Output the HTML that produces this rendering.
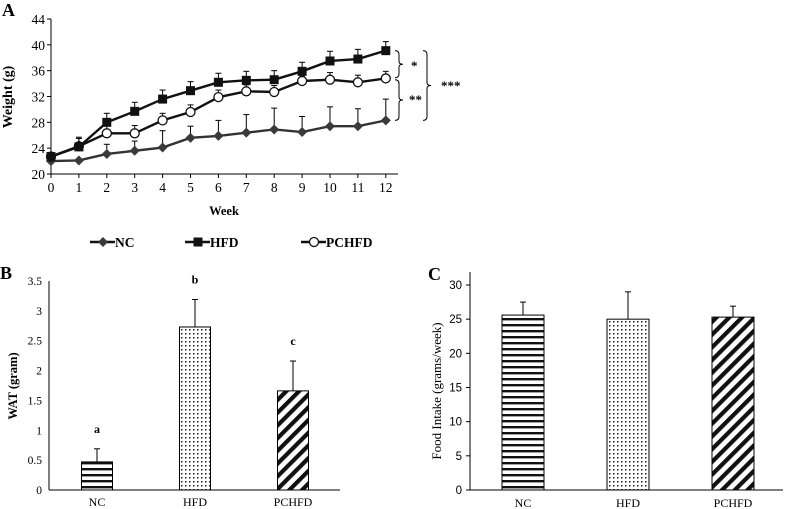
<!DOCTYPE html>
<html><head><meta charset="utf-8"><style>
html,body{margin:0;padding:0;background:#fff;}
svg{display:block;font-family:"Liberation Serif",serif;}
</style></head><body>
<svg width="787" height="509" viewBox="0 0 787 509" xmlns="http://www.w3.org/2000/svg">
<defs>
<pattern id="pH" width="8" height="6" patternUnits="userSpaceOnUse"><rect width="8" height="6" fill="#fff"/><rect y="0" width="8" height="2.4" fill="#111"/></pattern>
<pattern id="pD" width="4" height="4" patternUnits="userSpaceOnUse"><rect width="4" height="4" fill="#fff"/><rect x="1" y="1" width="1.5" height="1.5" fill="#222"/></pattern>
<pattern id="pS" width="9" height="9" patternUnits="userSpaceOnUse" patternTransform="rotate(45)"><rect width="9" height="9" fill="#fff"/><rect width="4.2" height="9" fill="#111"/></pattern>
</defs>
<g id="gA"></g>
<g id="gB"></g>
<g id="gC"></g>
</svg>
<script>
const weeks=[0,1,2,3,4,5,6,7,8,9,10,11,12];
const yTicksA=[20,24,28,32,36,40,44];
const ncVals=[22,22.1,23.1,23.6,24.1,25.6,25.9,26.4,26.9,26.5,27.4,27.4,28.3];
const ncErr=[0,0,1.5,1.5,2.6,1.8,2.4,2.8,3.3,2.4,3,2.7,3.3];
const hfdVals=[22.7,24.2,28,29.7,31.6,32.9,34.2,34.5,34.6,35.9,37.5,37.8,39.1];
const hfdErr=[0.3,1.5,1.4,1.4,1.4,1.4,1.4,1.4,1.4,1.4,1.5,1.5,1.4];
const pcVals=[22.7,24.3,26.3,26.3,28.3,29.6,31.9,32.8,32.7,34.4,34.6,34.2,34.8];
const pcErr=[0.4,1.2,1.2,1.2,1.1,1.1,1.1,1,1,0.8,1.1,1.1,1.1];
const groups=["NC","HFD","PCHFD"];
const watVals=[0.47,2.73,1.66];
const watErr=[0.22,0.46,0.5];
const watLetters=["a","b","c"];
const yTicksB=["0","0.5","1","1.5","2","2.5","3","3.5"];
const foodVals=[25.6,25,25.3];
const foodErr=[1.9,4,1.6];
const yTicksC=[0,5,10,15,20,25,30];
const NS="http://www.w3.org/2000/svg";
function mk(p,t,a,txt){const e=document.createElementNS(NS,t);for(const k in a)e.setAttribute(k,a[k]);if(txt!==undefined)e.textContent=txt;p.appendChild(e);return e;}

// Chart A
const gA=document.getElementById('gA');
const xA=w=>51+w*27.9, yA=v=>174-(v-20)*(155/24);
let t=mk(gA,'text',{x:2,y:16,'font-size':18,'font-weight':'bold'},'A');

let l=mk(gA,'line',{x1:51,y1:19,x2:51,y2:174,stroke:'#000','stroke-width':1});

l=mk(gA,'line',{x1:51,y1:174,x2:398,y2:174,stroke:'#000','stroke-width':1});

yTicksA.forEach(v=>{mk(gA,'line',{x1:47,y1:yA(v),x2:51,y2:yA(v),stroke:'#000'});
 t=mk(gA,'text',{x:45,y:yA(v)+5,'text-anchor':'end','font-size':13.5},v);
 });
weeks.forEach(w=>{mk(gA,'line',{x1:xA(w),y1:174,x2:xA(w),y2:178,stroke:'#000'});
 t=mk(gA,'text',{x:xA(w),y:192,'text-anchor':'middle','font-size':13.5},w);
 });
t=mk(gA,'text',{x:224,y:215,'text-anchor':'middle','font-size':12.5,'font-weight':'bold'},'Week');

t=mk(gA,'text',{x:0,y:0,'text-anchor':'middle','font-size':14,'font-weight':'bold',transform:'translate(12,97) rotate(-90)'},'Weight (g)');

function series(vals,errs,name,marker){
 const g=mk(gA,'g',{});
 
 vals.forEach((v,i)=>{const x=xA(weeks[i]);mk(g,'line',{x1:x,y1:yA(v),x2:x,y2:yA(v+errs[i]),stroke:'#000','stroke-width':1});
  mk(g,'line',{x1:x-3,y1:yA(v+errs[i]),x2:x+3,y2:yA(v+errs[i]),stroke:'#000','stroke-width':1});});
 mk(g,'polyline',{points:vals.map((v,i)=>xA(weeks[i])+','+yA(v)).join(' '),fill:'none',stroke:marker==='d'?'#333':'#111','stroke-width':2.4});
 vals.forEach((v,i)=>{const x=xA(weeks[i]),y=yA(v);let m;
  if(marker==='d')m=mk(g,'polygon',{points:`${x},${y-5} ${x+5},${y} ${x},${y+5} ${x-5},${y}`,fill:'#3a3a3a'});
  else if(marker==='s')m=mk(g,'rect',{x:x-4.5,y:y-4.5,width:9,height:9,fill:'#111'});
  else m=mk(g,'circle',{cx:x,cy:y,r:4.5,fill:'#fff',stroke:'#111','stroke-width':1.3});
  });
}
series(ncVals,ncErr,'nc','d');series(pcVals,pcErr,'pchfd','o');series(hfdVals,hfdErr,'hfd','s');
function brace(x,y1,y2,name){const m=(y1+y2)/2;const p=mk(gA,'path',{d:`M${x-4},${y1} Q${x},${y1} ${x},${y1+4} L${x},${m-3} Q${x},${m} ${x+4},${m} Q${x},${m} ${x},${m+3} L${x},${y2-4} Q${x},${y2} ${x-4},${y2}`,fill:'none',stroke:'#000','stroke-width':1});
 }
brace(399,yA(39.1),yA(34.9),'bracket-hfd-pchfd');brace(399,yA(34.6),yA(28.3),'bracket-pchfd-nc');brace(427,yA(39.1),yA(28.3),'bracket-hfd-nc');
[[411,70,'*','sig-star-1'],[409,104,'**','sig-star-2'],[441,90,'***','sig-star-3']].forEach(s=>{t=mk(gA,'text',{x:s[0],y:s[1],'font-size':13,'font-weight':'bold'},s[2]);});
const leg=[[90,'d','NC'],[185,'s','HFD'],[301,'o','PCHFD']];
leg.forEach(e=>{const g=mk(gA,'g',{});
 const x=e[0],y=242;mk(g,'line',{x1:x,y1:y,x2:x+25,y2:y,stroke:'#111','stroke-width':2.4});const c=x+13;
 if(e[1]==='d')mk(g,'polygon',{points:`${c},${y-5} ${c+5},${y} ${c},${y+5} ${c-5},${y}`,fill:'#3a3a3a'});
 else if(e[1]==='s')mk(g,'rect',{x:c-4.5,y:y-4.5,width:9,height:9,fill:'#111'});
 else mk(g,'circle',{cx:c,cy:y,r:4.5,fill:'#fff',stroke:'#111','stroke-width':1.3});
 mk(g,'text',{x:x+25,y:y+5,'font-size':13.5,'font-weight':'bold'},e[2]);});

// Chart B
const gB=document.getElementById('gB');
const yB=v=>490-v*(209/3.5);const cxB=[97,195,293];const bw=31;
t=mk(gB,'text',{x:0,y:279,'font-size':18,'font-weight':'bold'},'B');
yTicksB.forEach(s=>{const v=parseFloat(s);t=mk(gB,'text',{x:42,y:yB(v)+4,'text-anchor':'end','font-size':11.5},s);});
t=mk(gB,'text',{x:0,y:0,'text-anchor':'middle','font-size':12.5,'font-weight':'bold',transform:'translate(17,386) rotate(-90)'},'WAT (gram)');
const fills=['url(#pH)','url(#pD)','url(#pS)'];
groups.forEach((g,i)=>{const x=cxB[i];const top=yB(watVals[i]),e=yB(watVals[i]+watErr[i]);
 mk(gB,'line',{x1:x,y1:top,x2:x,y2:e,stroke:'#000'});mk(gB,'line',{x1:x-3,y1:e,x2:x+3,y2:e,stroke:'#000'});
 const r=mk(gB,'rect',{x:x-bw/2,y:top,width:bw,height:490-top,fill:fills[i],stroke:'#000','stroke-width':1});
 
 t=mk(gB,'text',{x:x,y:e-16,'text-anchor':'middle','font-size':12,'font-weight':'bold'},watLetters[i]);
 t=mk(gB,'text',{x:x,y:506,'text-anchor':'middle','font-size':12},g);});
l=mk(gB,'line',{x1:49,y1:281,x2:49,y2:490,stroke:'#000'});
l=mk(gB,'line',{x1:49,y1:490,x2:340,y2:490,stroke:'#000'});

// Chart C
const gC=document.getElementById('gC');
const yC=v=>490-v*(205/30);const cxC=[523,628,733];const bwC=42;
t=mk(gC,'text',{x:428,y:280,'font-size':18,'font-weight':'bold'},'C');
yTicksC.forEach(v=>{mk(gC,'line',{x1:466,y1:yC(v),x2:470,y2:yC(v),stroke:'#000'});t=mk(gC,'text',{x:462,y:yC(v)+4,'text-anchor':'end','font-size':11.5,'font-family':'Liberation Sans, sans-serif'},v);});
t=mk(gC,'text',{x:0,y:0,'text-anchor':'middle','font-size':13,transform:'translate(441,391) rotate(-90)'},'Food Intake (grams/week)');
groups.forEach((g,i)=>{const x=cxC[i];const top=yC(foodVals[i]),e=yC(foodVals[i]+foodErr[i]);
 mk(gC,'line',{x1:x,y1:top,x2:x,y2:e,stroke:'#000'});mk(gC,'line',{x1:x-3,y1:e,x2:x+3,y2:e,stroke:'#000'});
 const r=mk(gC,'rect',{x:x-bwC/2,y:top,width:bwC,height:490-top,fill:fills[i],stroke:'#000','stroke-width':1});
 
 t=mk(gC,'text',{x:x,y:507,'text-anchor':'middle','font-size':12},g);});
l=mk(gC,'line',{x1:470,y1:272,x2:470,y2:490,stroke:'#000'});
l=mk(gC,'line',{x1:470,y1:490,x2:783,y2:490,stroke:'#000'});
</script>
</body></html>
